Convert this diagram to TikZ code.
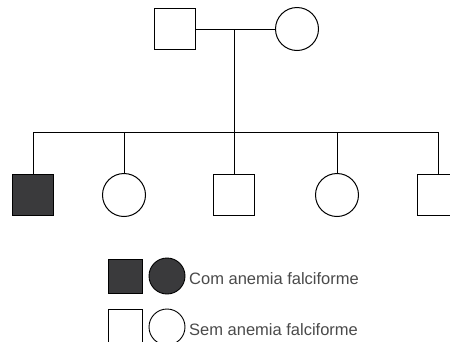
\documentclass[tikz,border=0pt]{standalone}
\usepackage{fontspec}
\setmainfont{Liberation Sans}
\usepackage{xcolor}
\usetikzlibrary{positioning}

\definecolor{affected}{HTML}{3A3A3C}
\definecolor{legendtext}{HTML}{4A4A4A}

\begin{document}
\begin{tikzpicture}[
    x=1pt, y=-1pt,
    male/.style={draw, line width=1pt, minimum size=41pt, inner sep=0pt},
    female/.style={draw, circle, line width=1pt, minimum size=43pt, inner sep=0pt},
    keymale/.style={draw, line width=0.9pt, minimum size=34pt, inner sep=0pt},
    keyfemale/.style={draw, circle, line width=0.9pt, minimum size=36pt, inner sep=0pt},
    sick/.style={fill=affected},
    link/.style={line width=1pt},
    keytext/.style={anchor=west, inner sep=0pt, text=legendtext, font=\fontsize{16.5}{18}\selectfont}
]
    \useasboundingbox (0,0) rectangle (450,341);
    \clip (0,0) rectangle (450,341);

    % parents
    \node[male] (father) at (175,29) {};
    \node[female] (mother) at (297,29) {};
    \coordinate (mid) at (234,29);
    \coordinate (sib) at (234,132);

    % children
    \node[male, sick] (c1) at (33,195) {};
    \node[female] (c2) at (124,195) {};
    \node[male] (c3) at (234,195) {};
    \node[female] (c4) at (337,195) {};
    \node[male] (c5) at (438,195) {};

    \draw[link] (father) -- (mother);
    \draw[link] (mid) -- (sib);
    \draw[link] (c1.north) -- (c1 |- sib) -- (c5 |- sib) -- (c5.north);
    \foreach \k in {c2,c3,c4}
        \draw[link] (\k |- sib) -- (\k.north);

    % legend
    \node[keymale, sick] (ksq1) at (125,276) {};
    \node[keyfemale, sick] (kci1) at (167,276) {};
    \node[keytext] (ktx1) at (189,279) {Com anemia falciforme};
    \node[keymale] (ksq2) at (125,326) {};
    \node[keyfemale] (kci2) at (167,327) {};
    \node[keytext] (ktx2) at (189,330) {Sem anemia falciforme};
\end{tikzpicture}
\end{document}
